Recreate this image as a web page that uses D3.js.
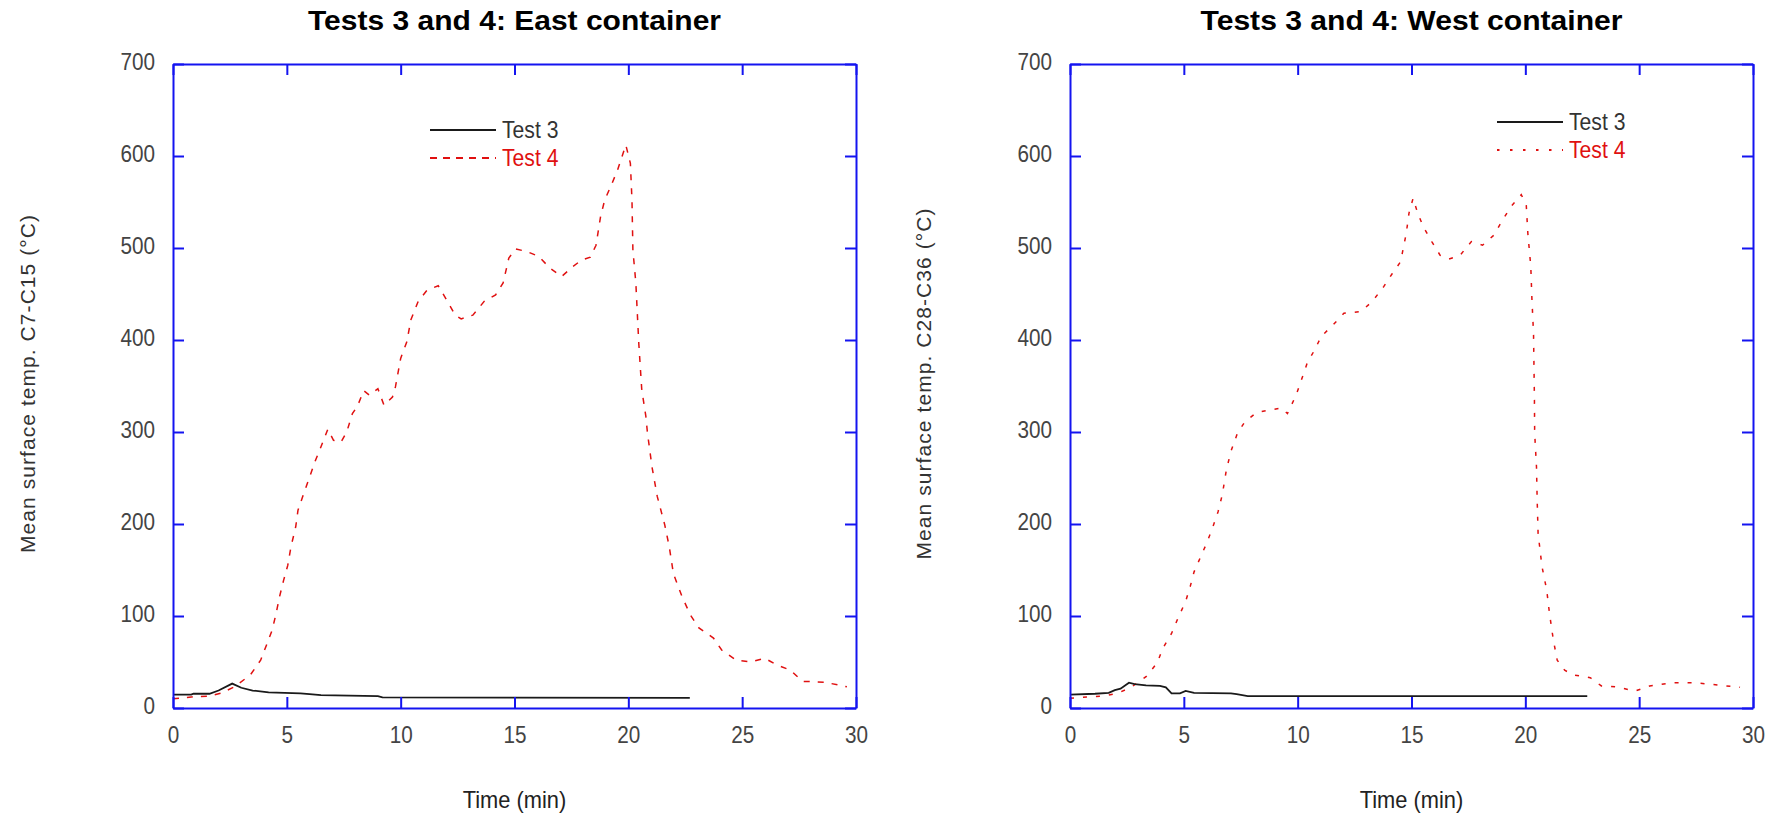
<!DOCTYPE html>
<html>
<head>
<meta charset="utf-8">
<script src="https://cdn.jsdelivr.net/npm/d3@7/dist/d3.min.js"></script>
<style>
  html, body { margin: 0; padding: 0; background: #ffffff; }
  svg { display: block; }
  text { font-family: "Liberation Sans", Arial, sans-serif; }
</style>
</head>
<body>
<svg id="chart" width="1767" height="818"></svg>
<script>
// ---------------- DATA ----------------
const xTicks = [0, 5, 10, 15, 20, 25, 30];
const yTicks = [0, 100, 200, 300, 400, 500, 600, 700];
const seriesNames = ["Test 3", "Test 4"];

const eastTitle = "Tests 3 and 4: East container";
const westTitle = "Tests 3 and 4: West container";
const eastYLabel = "Mean surface temp. C7-C15 (\u00B0C)";
const westYLabel = "Mean surface temp. C28-C36 (\u00B0C)";
const xLabel = "Time (min)";

// [time (min), temperature (°C)]
const eastTest3 = [[0,14.5],[0.8,14.5],[0.9,15.5],[1.6,15.5],[2.0,19],[2.6,26.5],[3.0,22],[3.5,19],[4.2,17],[5.6,16],[6.0,15],[6.5,14],[9.0,13],[9.2,11.5],[22.7,11]];
const eastTest4 = [[0,10],[0.8,12],[1.6,13],[2.1,16],[2.7,23],[3.4,36],[3.85,52],[4.1,68],[4.36,85],[4.53,103],[4.68,121],[4.86,139],[5.04,155],[5.18,175],[5.39,197],[5.49,215],[5.74,233],[6.0,251],[6.24,268],[6.5,284],[6.8,303],[7.05,291],[7.38,289],[7.63,300],[7.88,320],[8.1,328],[8.38,345],[8.63,340],[9.0,347],[9.27,329],[9.64,338],[9.77,349],[10.0,380],[10.27,398],[10.45,422],[10.77,442],[11.15,454],[11.65,459],[12.03,443],[12.4,427],[12.66,423],[13.17,427],[13.67,442],[14.17,449],[14.5,462],[14.75,489],[15.05,499],[15.56,496],[16.06,491],[16.56,478],[17.07,469],[17.57,480],[17.95,487],[18.33,490],[18.58,503],[18.78,534],[18.96,552],[19.28,570],[19.53,585],[19.89,612],[20.09,592],[20.16,552],[20.2,498],[20.33,462],[20.46,396],[20.59,346],[20.77,317],[20.84,299],[21.04,262],[21.27,230],[21.6,199],[21.8,175],[21.98,146],[22.36,121],[22.73,101],[23.1,87],[23.74,76],[24.1,63],[24.74,52],[25.37,50],[26.0,54],[26.5,47],[27.13,41],[27.64,29],[28.64,28],[29.6,23]];
const westTest3 = [[0,14.5],[1.1,15.5],[1.7,16.5],[1.97,19.5],[2.22,21],[2.59,27.5],[2.84,26],[3.34,24.5],[3.95,24],[4.21,22.5],[4.46,16],[4.83,16],[5.08,18.5],[5.45,16.5],[7.07,16],[7.32,15],[7.81,13],[22.72,13]];
const westTest4 = [[0,10.5],[0.73,12],[1.47,13],[2.1,16],[2.71,23],[3.34,34],[3.83,49],[4.08,65],[4.46,81],[4.75,98],[5.08,116],[5.28,132],[5.45,148],[5.75,165],[6.0,179],[6.25,195],[6.5,213],[6.69,232],[6.87,259],[7.07,279],[7.36,299],[7.68,311],[8.18,321],[8.8,324],[9.3,326],[9.55,320],[9.93,340],[10.17,357],[10.42,375],[10.74,389],[11.04,404],[11.54,416],[12.03,429],[12.78,431],[13.28,442],[13.78,458],[14.15,472],[14.52,485],[14.77,516],[14.89,538],[15.07,554],[15.27,538],[15.52,523],[15.89,507],[16.26,492],[16.64,488],[17.13,492],[17.63,507],[18.12,503],[18.62,514],[18.99,530],[19.37,545],[19.82,558],[20.04,547],[20.11,516],[20.24,480],[20.29,444],[20.36,407],[20.4,335],[20.41,299],[20.49,262],[20.52,226],[20.56,190],[20.73,154],[20.94,128],[21.06,103],[21.23,74],[21.4,52],[21.73,41],[22.1,36],[22.85,33],[23.34,24],[23.96,23],[24.83,18.5],[25.46,24],[26.45,27.5],[27.45,27.5],[28.44,25],[29.43,22.5]];

// ---------------- LAYOUT ----------------
const svg = d3.select("#chart");
const AXIS = "#1414f0";
const RED = "#e01010";
const BLACK = "#1a1a1a";
const TICKGRAY = "#444";

const panels = [
  { left: 173, right: 856, title: eastTitle, titleLen: 413, yLabel: eastYLabel, yLabelX: 28, yLabelLen: 338,
    t3: eastTest3, t4: eastTest4, legX: 430, legY: 130, dash: "6,8", legDash: "7,6" },
  { left: 1070, right: 1753, title: westTitle, titleLen: 422, yLabel: westYLabel, yLabelX: 924, yLabelLen: 351,
    t3: westTest3, t4: westTest4, legX: 1497, legY: 122, dash: "4,9", legDash: "2.5,10.5" }
];
const plotTop = 64, plotBottom = 708;

panels.forEach(p => {
  const g = svg.append("g");
  const x = d3.scaleLinear().domain([0, 30]).range([p.left, p.right]);
  const y = d3.scaleLinear().domain([0, 700]).range([plotBottom, plotTop]);
  const cx = (p.left + p.right) / 2;

  // title
  g.append("text")
    .attr("x", cx).attr("y", 30)
    .attr("text-anchor", "middle")
    .attr("font-size", 28).attr("font-weight", "bold")
    .attr("fill", "#000")
    .attr("textLength", p.titleLen).attr("lengthAdjust", "spacingAndGlyphs")
    .text(p.title);

  // series lines
  const line = d3.line().x(d => x(d[0])).y(d => y(d[1]));
  g.append("path").datum(p.t4)
    .attr("d", line).attr("fill", "none")
    .attr("stroke", RED).attr("stroke-width", 1.5)
    .attr("stroke-dasharray", p.dash);
  g.append("path").datum(p.t3)
    .attr("d", line).attr("fill", "none")
    .attr("stroke", BLACK).attr("stroke-width", 1.8);

  // axes (inward ticks on all four sides)
  const styleAxis = sel => {
    sel.selectAll("path.domain").attr("stroke", AXIS).attr("stroke-width", 2);
    sel.selectAll(".tick line").attr("stroke", AXIS).attr("stroke-width", 2);
  };
  const xb = g.append("g").attr("transform", `translate(0,${plotBottom})`)
    .call(d3.axisBottom(x).tickValues(xTicks).tickSizeInner(-11).tickSizeOuter(0).tickPadding(19));
  styleAxis(xb);
  xb.selectAll(".tick text")
    .attr("font-size", 23).attr("fill", TICKGRAY)
    .attr("font-family", "'Liberation Sans', Arial, sans-serif")
    .attr("transform", "scale(0.9,1)");

  const yl = g.append("g").attr("transform", `translate(${p.left},0)`)
    .call(d3.axisLeft(y).tickValues(yTicks).tickSizeInner(-11).tickSizeOuter(0));
  styleAxis(yl);
  yl.selectAll(".tick text")
    .attr("font-size", 23).attr("fill", TICKGRAY)
    .attr("font-family", "'Liberation Sans', Arial, sans-serif")
    .attr("x", -18 / 0.9).attr("dy", "0.22em")
    .attr("transform", "scale(0.9,1)");

  const xt = g.append("g").attr("transform", `translate(0,${plotTop})`)
    .call(d3.axisTop(x).tickValues(xTicks).tickSizeInner(-11).tickSizeOuter(0).tickFormat(""));
  styleAxis(xt);
  const yr = g.append("g").attr("transform", `translate(${p.right},0)`)
    .call(d3.axisRight(y).tickValues(yTicks).tickSizeInner(-11).tickSizeOuter(0).tickFormat(""));
  styleAxis(yr);

  // axis labels
  g.append("text")
    .attr("transform", `translate(${cx},${808}) scale(0.95,1)`)
    .attr("text-anchor", "middle")
    .attr("font-size", 23).attr("fill", "#222")
    .text(xLabel);

  g.append("text")
    .attr("transform", `translate(${p.yLabelX + 7},${(plotTop + plotBottom) / 2 - 2}) rotate(-90)`)
    .attr("text-anchor", "middle")
    .attr("font-size", 21).attr("fill", "#333")
    .attr("textLength", p.yLabelLen).attr("lengthAdjust", "spacing")
    .text(p.yLabel);

  // legend
  const leg = g.append("g");
  const items = [
    { name: seriesNames[0], color: BLACK, dash: null, textColor: "#333", yy: p.legY },
    { name: seriesNames[1], color: RED, dash: p.legDash, textColor: RED, yy: p.legY + 28 }
  ];
  items.forEach(it => {
    leg.append("line")
      .attr("x1", p.legX).attr("x2", p.legX + 66)
      .attr("y1", it.yy).attr("y2", it.yy)
      .attr("stroke", it.color).attr("stroke-width", 1.8)
      .attr("stroke-dasharray", it.dash);
    leg.append("text")
      .attr("transform", `translate(${p.legX + 72},${it.yy + 8}) scale(0.92,1)`)
      .attr("font-size", 23).attr("fill", it.textColor)
      .text(it.name);
  });
});
</script>
</body>
</html>
